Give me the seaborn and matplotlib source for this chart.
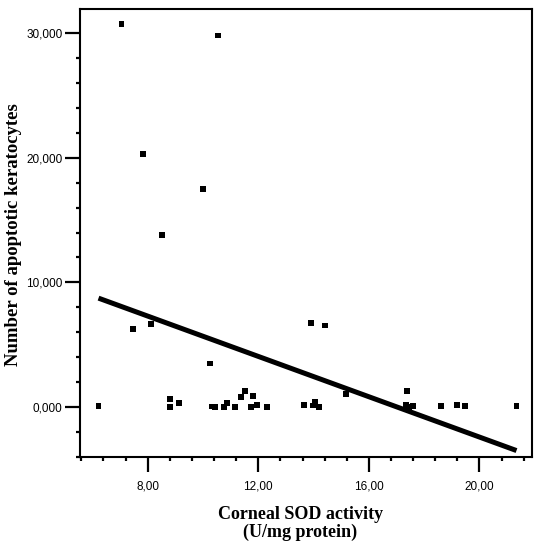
# packages
import numpy as np
import pandas as pd
import seaborn as sns
import matplotlib
matplotlib.use("Agg")
import matplotlib.pyplot as plt
from matplotlib.ticker import MultipleLocator, FuncFormatter

# data (SOD activity in U/mg protein, apoptotic keratocytes)
sod = [7.05, 10.53, 7.82, 10.00, 8.53, 6.22, 7.47, 8.13, 10.24, 8.82,
       8.82, 9.12, 10.32, 10.42, 10.75, 10.88, 11.17, 11.36, 11.51, 11.81,
       11.72, 11.95, 12.30, 13.66, 13.90, 14.40, 13.99, 14.06, 14.19, 15.17,
       17.39, 17.35, 17.47, 17.59, 18.60, 19.18, 19.49, 21.34]
apopt = [30.70, 29.80, 20.30, 17.50, 13.80, 0.10, 6.30, 6.66, 3.50, 0.64,
         0.02, 0.32, 0.05, 0.00, 0.00, 0.30, 0.00, 0.80, 1.26, 0.88,
         0.00, 0.16, 0.00, 0.16, 6.74, 6.55, 0.13, 0.43, 0.02, 1.04,
         1.26, 0.16, 0.00, 0.08, 0.08, 0.16, 0.08, 0.10]

# fitted line as drawn in the figure (ends at min / max SOD)
fit_sod = [6.22, 21.34]
fit_apopt = [8.74, -3.48]

df = pd.DataFrame({"sod": sod, "apopt": apopt})
fit = pd.DataFrame({"sod": fit_sod, "apopt": fit_apopt})

sns.set_style("ticks")
fig = plt.figure(figsize=(5.38, 5.5), dpi=100)
ax = fig.add_axes([0.1487, 0.169, 0.8401, 0.8146])

sns.scatterplot(x="sod", y="apopt", data=df, marker="s", s=18, color="black",
                edgecolor="none", ax=ax, zorder=3)
sns.lineplot(x="sod", y="apopt", data=fit, color="black", lw=3.6, ax=ax,
             solid_capstyle="butt", zorder=2)

ax.set_xlim(5.55, 21.9)
ax.set_ylim(-4, 31.92)

ax.xaxis.set_minor_locator(MultipleLocator(0.8))
ax.yaxis.set_minor_locator(MultipleLocator(2))
ax.set_xticks([8, 12, 16, 20])
ax.set_yticks([0, 10, 20, 30])
ax.xaxis.set_major_formatter(FuncFormatter(lambda v, p: f"{v:.2f}".replace(".", ",")))
ax.yaxis.set_major_formatter(FuncFormatter(lambda v, p: f"{v:.3f}".replace(".", ",")))

ax.tick_params(which="major", length=11, width=1.6, color="black", direction="out")
ax.tick_params(which="minor", length=3, width=1.6, color="black", direction="out")
ax.tick_params(axis="x", which="major", pad=6)
ax.tick_params(axis="y", which="major", pad=1.5)
for lab in ax.get_xticklabels() + ax.get_yticklabels():
    lab.set_fontfamily("Liberation Sans")
    lab.set_fontsize(8.5)
    lab.set_color("black")

for sp in ax.spines.values():
    sp.set_visible(True)
    sp.set_linewidth(1.5)
    sp.set_color("black")

ax.set_xlabel("Corneal SOD activity\n(U/mg protein)", fontfamily="Liberation Serif",
              fontweight="bold", fontsize=13, linespacing=1.05, va="top", color="black")
ax.xaxis.set_label_coords(0.487, -0.11)
ax.set_ylabel("Number of apoptotic keratocytes", fontfamily="Liberation Serif",
              fontweight="bold", fontsize=13.5, va="center", color="black")
ax.yaxis.set_label_coords(-0.148, 0.496)

fig.savefig("out.png", dpi=100)
